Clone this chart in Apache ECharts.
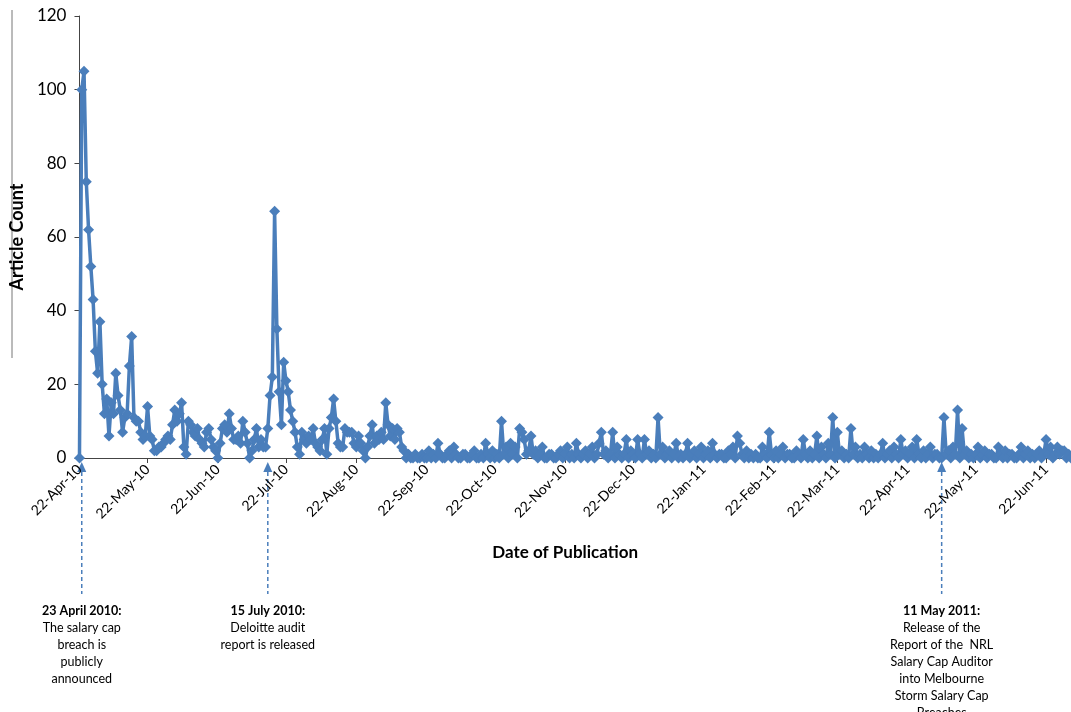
<!DOCTYPE html>
<html>
<head>
<meta charset="utf-8">
<title>Article Count by Date of Publication</title>
<script src="https://cdn.jsdelivr.net/npm/echarts@6/dist/echarts.min.js"></script>
<style>
    html, body { margin: 0; padding: 0; background: #fff; }
    #main { width: 1071px; height: 712px; }
</style>
</head>
<body>
<div id="main"></div>
<script>
// one value per day, first day is 22-Apr-10
var counts = [
    0, 100, 105, 75, 62, 52, 43, 29, 23, 37,      // 0
    20, 12, 16, 6, 15, 12, 23, 17, 13, 7,         // 10
    11, 12, 25, 33, 11, 10, 10, 7, 5, 6,          // 20
    14, 6, 5, 2, 2, 3, 3, 4, 5, 6,                // 30
    5, 9, 13, 10, 12, 15, 3, 1, 10, 9,            // 40
    7, 6, 8, 5, 4, 3, 7, 8, 5, 3,                 // 50
    2, 0, 4, 8, 9, 7, 12, 8, 5, 5,                // 60
    6, 4, 10, 7, 4, 0, 2, 5, 8, 3,                // 70
    5, 3, 3, 8, 17, 22, 67, 35, 18, 9,            // 80
    26, 21, 18, 13, 10, 7, 3, 1, 7, 5,            // 90
    4, 6, 5, 8, 4, 3, 2, 5, 8, 1,                 // 100
    8, 11, 16, 10, 4, 3, 3, 8, 7, 7,              // 110
    7, 4, 3, 6, 4, 2, 0, 3, 6, 9,                 // 120
    4, 6, 5, 7, 5, 15, 9, 6, 8, 5,                // 130
    8, 7, 3, 2, 0, 1, 0, 0, 1, 0,                 // 140
    0, 1, 0, 0, 2, 0, 1, 0, 4, 1,                 // 150
    0, 0, 1, 2, 0, 3, 1, 0, 0, 1,                 // 160
    1, 0, 0, 1, 2, 0, 0, 1, 0, 4,                 // 170
    1, 0, 2, 0, 1, 0, 10, 1, 3, 0,                // 180
    4, 1, 3, 0, 8, 7, 5, 1, 2, 6,                 // 190
    1, 2, 0, 1, 3, 0, 0, 1, 1, 0,                 // 200
    0, 1, 2, 0, 1, 3, 0, 1, 0, 4,                 // 210
    1, 0, 1, 2, 0, 1, 3, 0, 1, 4,                 // 220
    7, 1, 2, 0, 1, 7, 0, 3, 1, 0,                 // 230
    1, 5, 0, 2, 1, 0, 5, 1, 0, 5,                 // 240
    1, 2, 0, 1, 0, 11, 1, 3, 0, 1,                // 250
    2, 0, 1, 4, 0, 1, 0, 1, 4, 0,                 // 260
    1, 2, 0, 1, 3, 0, 1, 2, 0, 4,                 // 270
    1, 0, 1, 1, 0, 0, 2, 1, 3, 0,                 // 280
    6, 4, 1, 0, 2, 0, 1, 0, 1, 0,                 // 290
    0, 3, 1, 0, 7, 1, 0, 2, 0, 1,                 // 300
    3, 0, 1, 1, 0, 0, 2, 1, 0, 5,                 // 310
    1, 0, 2, 0, 1, 6, 0, 3, 1, 0,                 // 320
    4, 1, 11, 0, 7, 1, 2, 0, 1, 0,                // 330
    8, 1, 3, 0, 1, 0, 3, 1, 0, 2,                 // 340
    0, 1, 0, 1, 4, 0, 1, 2, 0, 3,                 // 350
    1, 0, 5, 1, 2, 0, 1, 3, 0, 5,                 // 360
    1, 0, 2, 0, 1, 3, 0, 1, 1, 0,                 // 370
    0, 11, 1, 2, 0, 3, 1, 13, 0, 8,               // 380
    1, 2, 0, 1, 0, 1, 3, 0, 1, 2,                 // 390
    0, 1, 1, 0, 0, 3, 1, 0, 2, 0,                 // 400
    1, 1, 0, 0, 1, 3, 0, 1, 2, 0,                 // 410
    1, 0, 1, 2, 0, 1, 5, 1, 3, 0,                 // 420
    1, 3, 1, 2, 2, 0, 1, 0                        // 430
];

var tickLabels = ['22-Apr-10', '22-May-10', '22-Jun-10', '22-Jul-10', '22-Aug-10',
    '22-Sep-10', '22-Oct-10', '22-Nov-10', '22-Dec-10', '22-Jan-11', '22-Feb-11',
    '22-Mar-11', '22-Apr-11', '22-May-11', '22-Jun-11'];

var monthNames = ['Jan', 'Feb', 'Mar', 'Apr', 'May', 'Jun', 'Jul', 'Aug', 'Sep', 'Oct', 'Nov', 'Dec'];

// annotations under the axis
var events = [
    {at: '23-Apr-10', title: '23 April 2010:',
        lines: ['The salary cap', 'breach is', 'publicly', 'announced']},
    {at: '14-Jul-10', title: '15 July 2010:',
        lines: ['Deloitte audit', 'report is released']},
    {at: '7-May-11', title: '11 May 2011:',
        lines: ['Release of the', 'Report of the  NRL', 'Salary Cap Auditor', 'into Melbourne', 'Storm Salary Cap', 'Breaches']}
];

var dates = [];
for (var i = 0; i < counts.length; i++) {
    var d = new Date(Date.UTC(2010, 3, 22 + i));
    dates.push(d.getUTCDate() + '-' + monthNames[d.getUTCMonth()] + '-' + String(d.getUTCFullYear()).slice(2));
}

var font = 'Lato, "Open Sans", sans-serif';
var blue = '#4A7EBB';

function isTick(index, value) {
    return tickLabels.indexOf(value) >= 0;
}

var chart = echarts.init(document.getElementById('main'));
var option = {
    animation: false,
    grid: {
        left: 79,
        right: 0,
        top: 16,
        bottom: 254
    },
    xAxis: {
        type: 'category',
        data: dates,
        boundaryGap: false,
        name: 'Date of Publication',
        nameLocation: 'middle',
        nameGap: 86,
        nameTextStyle: {
            fontFamily: font,
            fontWeight: 'bold',
            fontSize: 17,
            color: '#000',
            padding: [0, 20, 0, 0]
        },
        axisLine: {lineStyle: {color: '#444', width: 1}},
        axisTick: {
            interval: isTick,
            length: 5,
            lineStyle: {color: '#444'}
        },
        axisLabel: {
            interval: isTick,
            rotate: 45,
            margin: 9,
            fontFamily: font,
            fontSize: 14,
            color: '#000'
        },
        splitLine: {show: false}
    },
    yAxis: {
        type: 'value',
        min: 0,
        max: 120,
        interval: 20,
        name: 'Article Count',
        nameLocation: 'middle',
        nameGap: 52,
        nameTextStyle: {
            fontFamily: font,
            fontWeight: 'bold',
            fontSize: 18,
            color: '#000'
        },
        axisLine: {show: true, lineStyle: {color: '#444', width: 1}},
        axisTick: {show: true, length: 5, lineStyle: {color: '#444'}},
        axisLabel: {
            margin: 13,
            fontFamily: font,
            fontSize: 17,
            color: '#000'
        },
        splitLine: {show: false}
    },
    series: [{
        name: 'Article Count',
        type: 'line',
        data: counts,
        symbol: 'diamond',
        symbolSize: 11,
        showAllSymbol: true,
        lineStyle: {color: blue, width: 3.5},
        itemStyle: {color: blue}
    }]
};
chart.setOption(option);

// annotation arrows and texts, positioned from the axis
var graphics = [{
    type: 'line',
    shape: {x1: 12, y1: 10, x2: 12, y2: 358},
    style: {stroke: '#777', lineWidth: 1}
}];
events.forEach(function (ev) {
    var x = chart.convertToPixel({xAxisIndex: 0}, ev.at);
    graphics.push({
        type: 'polygon',
        shape: {points: [[x, 462], [x - 4.5, 472], [x + 4.5, 472]]},
        style: {fill: blue}
    });
    graphics.push({
        type: 'line',
        shape: {x1: x, y1: 472, x2: x, y2: 594},
        style: {stroke: blue, lineWidth: 1.5, lineDash: [4, 3]}
    });
    graphics.push({
        type: 'text',
        x: x,
        y: 602,
        style: {
            text: '{b|' + ev.title + '}\n' + ev.lines.map(function (l) { return '{n|' + l + '}'; }).join('\n'),
            align: 'center',
            verticalAlign: 'top',
            fill: '#000',
            rich: {
                b: {fontFamily: font, fontWeight: 'bold', fontSize: 12.5, lineHeight: 17, fill: '#000'},
                n: {fontFamily: font, fontSize: 12.5, lineHeight: 17, fill: '#000'}
            }
        }
    });
});
chart.setOption({graphic: graphics});
</script>
</body>
</html>
